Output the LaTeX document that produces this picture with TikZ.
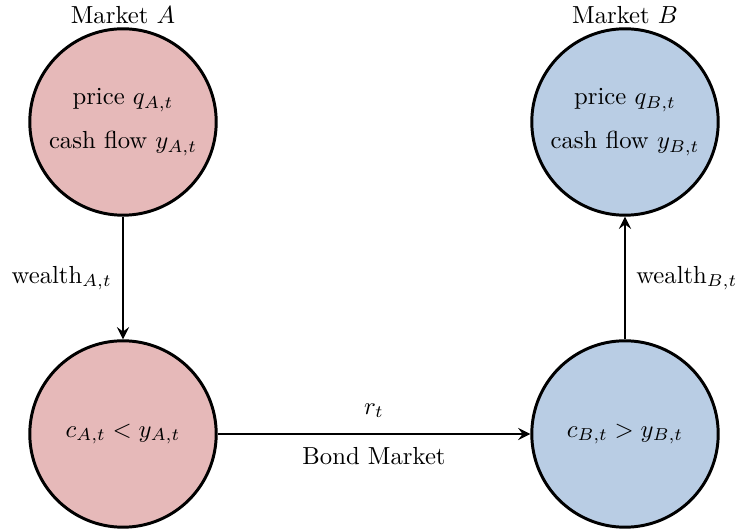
\documentclass[tikz,border=0pt]{standalone}
\usetikzlibrary{arrows}
\definecolor{mred}{RGB}{230,185,185}
\definecolor{mblue}{RGB}{185,205,228}
\begin{document}
\begin{tikzpicture}[x=0.405pt,y=-0.405pt,
  market/.style={circle,draw=black,line width=1.2pt,minimum size=75.5pt,inner sep=0pt,align=center},
  flow/.style={->,>=stealth,line width=1.15pt},
  lbl/.style={inner sep=2pt}]
\useasboundingbox (0,0) rectangle (743,529);
\node[market,fill=mred] (A) at (123,122) {price $q_{A,t}$\\[6pt]cash flow $y_{A,t}$};
\node[market,fill=mblue] (B) at (625,122) {price $q_{B,t}$\\[6pt]cash flow $y_{B,t}$};
\node[market,fill=mred] (cA) at (123,434) {$c_{A,t} < y_{A,t}$};
\node[market,fill=mblue] (cB) at (625,434) {$c_{B,t} > y_{B,t}$};
\node[lbl] (lA) at (123,15) {Market $A$};
\node[lbl] (lB) at (625,15) {Market $B$};
\draw[flow] (A) -- node[left,lbl,xshift=-2pt] {wealth$_{A,t}$} (cA);
\draw[flow] (cB) -- node[right,lbl,xshift=2pt] {wealth$_{B,t}$} (B);
\draw[flow] (cA) -- node[above,lbl,yshift=4pt] {$r_t$} node[below,lbl,yshift=-3pt] {Bond Market} (cB);
\end{tikzpicture}
\end{document}
